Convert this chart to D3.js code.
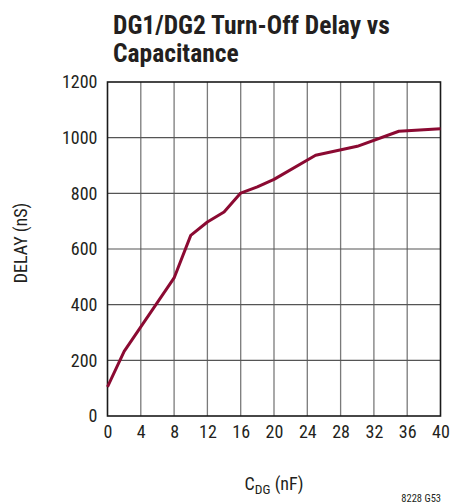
<!DOCTYPE html>
<html><head><meta charset="utf-8">
<script src="https://cdn.jsdelivr.net/npm/d3@7"></script>
<style>
html,body{margin:0;padding:0;background:#fff;}
svg text{font-family:"Liberation Sans Narrow","Roboto Condensed","Arial Narrow",sans-serif;fill:#231f20;}
</style></head>
<body>
<svg id="c" width="451" height="504"></svg>
<script>
const capacitance = [0, 2, 8, 10, 12, 14, 16, 18, 20, 25, 30, 35, 40];
const delay = [105, 232, 496, 649, 697, 733, 801, 823, 850, 937, 969, 1023, 1032];
const xTicks = [0, 4, 8, 12, 16, 20, 24, 28, 32, 36, 40];
const yTicks = [0, 200, 400, 600, 800, 1000, 1200];
const titleLines = ["DG1/DG2 Turn-Off Delay vs", "Capacitance"];

const svg = d3.select("#c");
const L = 107.5, R = 440.5, T = 82, B = 416;
const x = d3.scaleLinear().domain([0, 40]).range([L, R]);
const y = d3.scaleLinear().domain([0, 1200]).range([B, T]);

// title
svg.append("g").selectAll("text").data(titleLines).join("text")
  .attr("x", 113).attr("y", (d, i) => 34 + i * 28)
  .style("font-size", "25.5px").style("font-weight", "bold")
  .text(d => d);

// grid
svg.append("g").attr("stroke", "#7a7a7a").attr("stroke-width", 1.3)
  .selectAll("line").data(xTicks.slice(1, -1)).join("line")
  .attr("x1", d => x(d)).attr("x2", d => x(d)).attr("y1", T).attr("y2", B);
svg.append("g").attr("stroke", "#555").attr("stroke-width", 1.2)
  .selectAll("line").data(yTicks.slice(1, -1)).join("line")
  .attr("y1", d => y(d)).attr("y2", d => y(d)).attr("x1", L).attr("x2", R);

// frame
svg.append("rect").attr("x", L).attr("y", T).attr("width", R - L).attr("height", B - T)
  .attr("fill", "none").attr("stroke", "#1a1a1a").attr("stroke-width", 1.6);

// axes labels via d3 axes
const xa = svg.append("g").attr("transform", `translate(0,${B})`)
  .call(d3.axisBottom(x).tickValues(xTicks).tickFormat(d3.format("d")).tickSize(0).tickPadding(9));
xa.select(".domain").remove();
xa.selectAll("text").style("font-size", "18px").attr("fill", "#231f20").style("font-family", null);
const ya = svg.append("g").attr("transform", `translate(${L},0)`)
  .call(d3.axisLeft(y).tickValues(yTicks).tickFormat(d3.format("d")).tickSize(0).tickPadding(10));
ya.select(".domain").remove();
ya.selectAll("text").style("font-size", "18px").attr("fill", "#231f20").style("font-family", null);

// line
svg.append("path").datum(capacitance.map((c, i) => [c, delay[i]]))
  .attr("fill", "none").attr("stroke", "#8b0a32").attr("stroke-width", 3)
  .attr("stroke-linejoin", "round")
  .attr("d", d3.line().x(d => x(d[0])).y(d => y(d[1])));

// axis titles
const xt = svg.append("text").attr("x", 274).attr("y", 490).attr("text-anchor", "middle")
  .style("font-size", "18px");
xt.append("tspan").text("C");
xt.append("tspan").attr("dy", 4).style("font-size", "13.5px").text("DG");
xt.append("tspan").attr("dy", -4).text(" (nF)");

svg.append("text").attr("transform", "translate(27,243) rotate(-90)")
  .attr("text-anchor", "middle").style("font-size", "18px").text("DELAY (nS)");

svg.append("text").attr("x", 441).attr("y", 502).attr("text-anchor", "end")
  .style("font-size", "10.5px").text("8228 G53");
</script>
</body></html>
